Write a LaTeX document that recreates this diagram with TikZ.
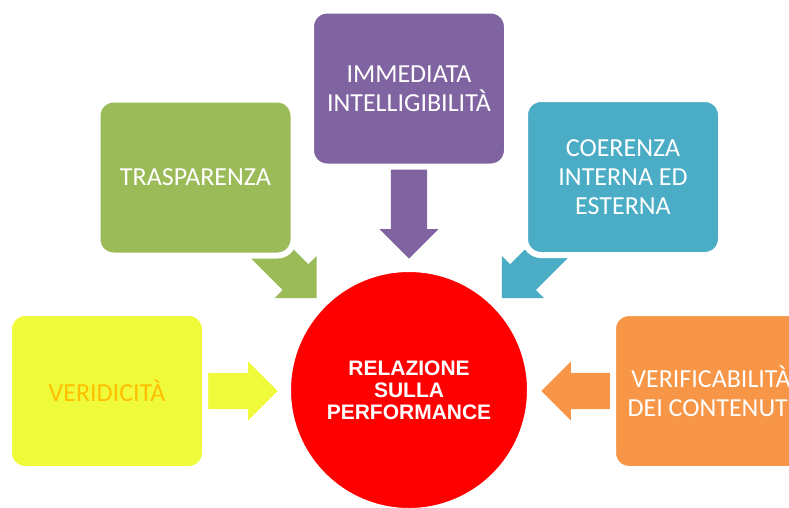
\documentclass[tikz,border=0pt]{standalone}
\usepackage{fontspec}
\newfontfamily\boxfont{Carlito}
\newfontfamily\corefont{Liberation Sans}
\usetikzlibrary{shapes.geometric, shapes.arrows, positioning}
\definecolor{boxgreen}{RGB}{155,187,89}
\definecolor{boxpurple}{RGB}{128,100,162}
\definecolor{boxteal}{RGB}{75,172,198}
\definecolor{boxorange}{RGB}{247,150,70}
\definecolor{boxyellow}{RGB}{239,251,58}
\definecolor{textamber}{RGB}{255,190,0}
\tikzstyle{box} = [
  rectangle,
  rounded corners=16pt,
  minimum width=196pt,
  minimum height=156pt,
  text centered,
  align=center,
  draw=white,
  line width=6pt,
  text=white,
  font=\boxfont\fontsize{26}{29}\selectfont
]
\tikzstyle{blockarrow} = [
  single arrow,
  single arrow head extend=11.5pt,
  single arrow tip angle=90,
  inner xsep=0pt,
  inner ysep=18pt,
  anchor=tip
]
\tikzstyle{core} = [
  circle,
  minimum size=238pt,
  fill=red,
  draw=white,
  line width=2pt,
  text=white,
  align=center,
  font=\corefont\bfseries\fontsize{21}{22}\selectfont
]

\begin{document}
\begin{tikzpicture}[x=1pt, y=-1pt]
    \useasboundingbox (0,0) rectangle (789,507);
    \clip (0,0) rectangle (789,507);

    \node (arr-trasparenza) [blockarrow, fill=boxgreen, minimum height=90pt, rotate=-45] at (316.7,298.3) {};
    \node (arr-immediata) [blockarrow, fill=boxpurple, minimum height=90pt, rotate=-90] at (409,259) {};
    \node (arr-coerenza) [blockarrow, fill=boxteal, minimum height=90pt, rotate=-135] at (501.7,298.3) {};
    \node (arr-veridicita) [blockarrow, fill=boxyellow, minimum height=71pt] at (278,391) {};
    \node (arr-verificabilita) [blockarrow, fill=boxorange, minimum height=70pt, rotate=180] at (541,391) {};

    \node (trasparenza) [box, fill=boxgreen] at (195.5,177.5) {TRASPARENZA};
    \node (immediata) [box, fill=boxpurple] at (409,88.5) {IMMEDIATA\\INTELLIGIBILITÀ};
    \node (coerenza) [box, fill=boxteal] at (623,177) {COERENZA\\INTERNA ED\\ESTERNA};
    \node (veridicita) [box, fill=boxyellow, text=textamber] at (107,391) {VERIDICITÀ};
    \node (verificabilita) [box, fill=boxorange] at (711,391) {VERIFICABILITÀ\\DEI CONTENUTI};

    \node (relazione) [core] at (409,390) {RELAZIONE\\SULLA\\PERFORMANCE};
  \end{tikzpicture}
\end{document}
